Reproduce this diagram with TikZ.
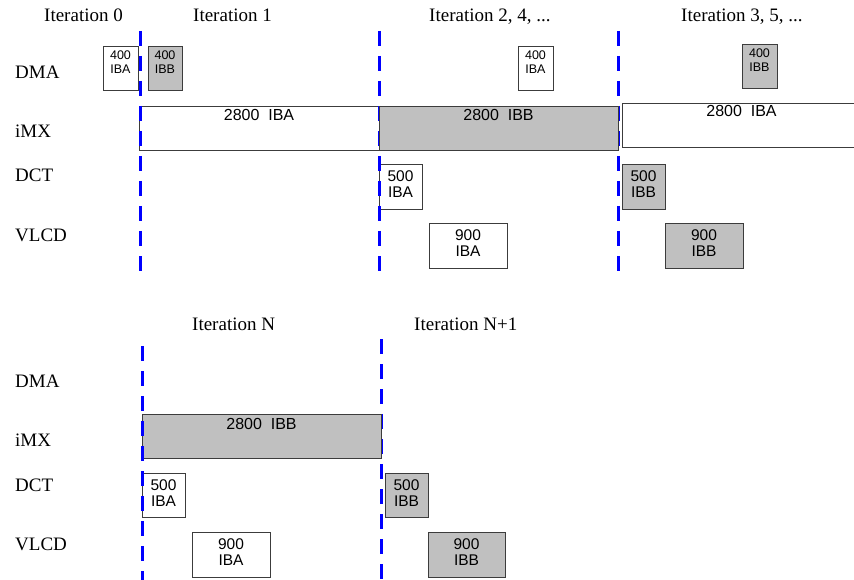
\documentclass[tikz,border=0pt]{standalone}
\usepackage{fontspec}
\setmainfont{Liberation Serif}
\newfontfamily\boxfont{Liberation Sans}
\definecolor{boxgray}{RGB}{192,192,192}
\definecolor{edgegray}{RGB}{60,60,60}
\definecolor{sepblue}{RGB}{0,0,255}
\begin{document}
\begin{tikzpicture}[x=1pt,y=-1pt,
  lbl/.style={anchor=base west,inner sep=0pt,font=\fontsize{19}{19}\selectfont},
  wbox/.style={draw=edgegray,line width=0.9pt,fill=white,anchor=north west,inner sep=0pt,outer sep=0pt},
  gbox/.style={wbox,fill=boxgray},
  txtS/.style={anchor=north,inner sep=0pt,align=center,yshift=8.9pt,font=\boxfont\fontsize{12.5}{14}\selectfont},
  txtM/.style={anchor=north,inner sep=0pt,align=center,yshift=11pt,font=\boxfont\fontsize{15.5}{16.7}\selectfont},
  txtL/.style={anchor=base,inner sep=0pt,font=\boxfont\fontsize{16}{16}\selectfont},
  sep/.style={draw=sepblue,line width=3pt,dash pattern=on 15pt off 10pt}]
\useasboundingbox (0,0) rectangle (854,580);

% ---------- top part: headings ----------
\node[lbl] (h0) at (44,22) {Iteration 0};
\node[lbl] (h1) at (193,22) {Iteration 1};
\node[lbl] (h2) at (429,22) {Iteration 2, 4, ...};
\node[lbl] (h3) at (681,22) {Iteration 3, 5, ...};
\node[lbl] (rdma) at (15,79) {DMA};
\node[lbl] (rimx) at (15,138) {iMX};
\node[lbl] (rdct) at (15,182) {DCT};
\node[lbl] (rvlcd) at (15,242) {VLCD};

% ---------- top part: boxes under separators ----------
\node[wbox,minimum width=240,minimum height=44] (imxA) at (139,106) {};
\node[txtL] (imxAt) at (259,121) {2800\ \ IBA};
\node[wbox,minimum width=35,minimum height=44] (dmaA0) at (103,46) {};
\node[txtS] (dmaA0t) at (120.5,59) {400\\IBA};
\node[gbox,minimum width=34,minimum height=44] (dmaB1) at (148,46) {};
\node[txtS] (dmaB1t) at (165,59) {400\\IBB};
\node[wbox,minimum width=35,minimum height=44] (dmaA2) at (518,46) {};
\node[txtS] (dmaA2t) at (535.5,59) {400\\IBA};
\node[gbox,minimum width=35,minimum height=44] (dmaB3) at (742,44) {};
\node[txtS] (dmaB3t) at (759.5,57) {400\\IBB};
\node[wbox,minimum width=43,minimum height=45] (dctA) at (379,164) {};
\node[txtM] (dctAt) at (400.5,181) {500\\IBA};
\node[gbox,minimum width=43,minimum height=45] (dctB) at (622,164) {};
\node[txtM] (dctBt) at (643.5,181) {500\\IBB};
\node[wbox,minimum width=78,minimum height=45] (vlA) at (429,223) {};
\node[txtM] (vlAt) at (468,240) {900\\IBA};
\node[gbox,minimum width=78,minimum height=45] (vlB) at (665,223) {};
\node[txtM] (vlBt) at (704,240) {900\\IBB};
\node[wbox,minimum width=239,minimum height=44] (imxA3) at (622,103) {};
\node[txtL] (imxA3t) at (741.5,117) {2800\ \ IBA};

% separators
\coordinate (s1t) at (140,31); \coordinate (s1b) at (140,272);
\coordinate (s2t) at (379,31); \coordinate (s2b) at (379,272);
\coordinate (s3t) at (618,31); \coordinate (s3b) at (618,272);
\draw[sep] (s1t) -- (s1b);
\draw[sep] (s2t) -- (s2b);
\draw[sep] (s3t) -- (s3b);

% box over separators
\node[gbox,minimum width=239,minimum height=44] (imxB) at (379,106) {};
\node[txtL] (imxBt) at (498.5,121) {2800\ \ IBB};

% ---------- bottom part ----------
\node[lbl] (hN) at (192,330) {Iteration N};
\node[lbl] (hN1) at (414,330) {Iteration N+1};
\node[lbl] (bdma) at (15,387) {DMA};
\node[lbl] (bimx) at (15,446) {iMX};
\node[lbl] (bdct) at (15,491) {DCT};
\node[lbl] (bvlcd) at (15,550) {VLCD};

\coordinate (s5t) at (381,339); \coordinate (s5b) at (381,580);
\draw[sep] (s5t) -- (s5b);

\node[gbox,minimum width=239,minimum height=44] (bimxB) at (142,414) {};
\node[txtL] (bimxBt) at (261.5,429) {2800\ \ IBB};
\node[wbox,minimum width=43,minimum height=44] (bdctA) at (142,473) {};
\node[txtM] (bdctAt) at (163.5,490) {500\\IBA};
\node[gbox,minimum width=43,minimum height=44] (bdctB) at (385,473) {};
\node[txtM] (bdctBt) at (406.5,490) {500\\IBB};
\node[wbox,minimum width=78,minimum height=45] (bvlA) at (192,532) {};
\node[txtM] (bvlAt) at (231,549) {900\\IBA};
\node[gbox,minimum width=77,minimum height=45] (bvlB) at (428,532) {};
\node[txtM] (bvlBt) at (466.5,549) {900\\IBB};

\coordinate (s4t) at (142,346); \coordinate (s4b) at (142,580);
\draw[sep] (s4t) -- (s4b);
\end{tikzpicture}
\end{document}
